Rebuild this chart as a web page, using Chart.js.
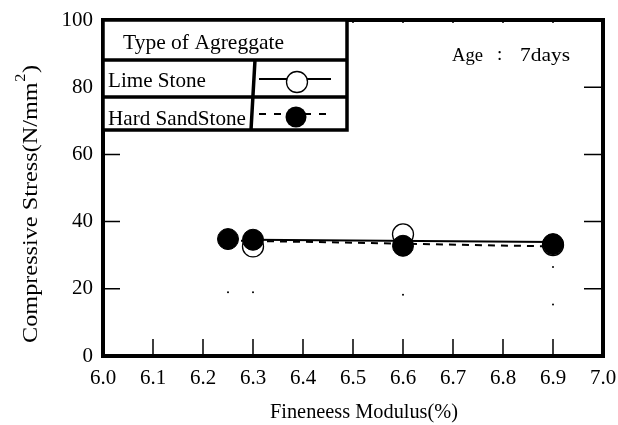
<!DOCTYPE html>
<html><head><meta charset="utf-8">
<script src="https://cdn.jsdelivr.net/npm/chart.js@4"></script>
<style>html,body{margin:0;padding:0;background:#fff}#wrap{width:618px;height:425px}</style>
</head><body><div id="wrap"><canvas id="c" width="618" height="425"></canvas></div>
<script>
// ---- data ----
const xTickValues = [6.0, 6.1, 6.2, 6.3, 6.4, 6.5, 6.6, 6.7, 6.8, 6.9, 7.0];
const xTickLabels = ['6.0','6.1','6.2','6.3','6.4','6.5','6.6','6.7','6.8','6.9','7.0'];
const yTickValues = [0, 20, 40, 60, 80, 100];
const yTickLabels = ['0','20','40','60','80','100'];

const limeX = [6.3, 6.6, 6.9];
const limeY = [32.6, 36.2, 33.0];
const sandX = [6.25, 6.3, 6.6, 6.9];
const sandY = [34.8, 34.6, 32.8, 33.3];

const limeTrendX = [6.3, 6.9];
const limeTrendY = [34.6, 33.9];
const sandTrendX = [6.25, 6.9];
const sandTrendY = [34.4, 32.6];

const speckX = [6.25, 6.3, 6.6, 6.9, 6.9];
const speckY = [19.0, 19.0, 18.2, 26.5, 15.3];

const seriesNames = ['Lime Stone', 'Hard SandStone'];
const legendTitle = 'Type of Agreggate';
const xTitle = 'Fineneess Modulus(%)';
const yTitleMain = 'Compressive Stress(N/mm';
const yTitleSup = '2';
const yTitleEnd = ')';
const ageParts = ['Age', ':', '7days'];

const pts = (xs, ys) => xs.map((x, i) => ({x: x, y: ys[i]}));
const SERIF = '"Liberation Serif", "Times New Roman", serif';

function stretchText(ctx, text, x, y, targetW) {
  const w = ctx.measureText(text).width;
  const s = targetW / w;
  ctx.save();
  ctx.translate(x, y);
  ctx.scale(s, 1);
  ctx.fillText(text, 0, 0);
  ctx.restore();
}

const decor = {
  id: 'decor',
  afterDraw(chart) {
    const ctx = chart.ctx;
    const a = chart.chartArea;
    const xs = chart.scales.x, ys = chart.scales.y;
    ctx.save();
    ctx.strokeStyle = '#000';
    ctx.fillStyle = '#000';
    // inward ticks
    ctx.lineWidth = 1.5;
    ctx.beginPath();
    xTickValues.forEach(v => {
      const px = xs.getPixelForValue(v);
      ctx.moveTo(px, a.bottom); ctx.lineTo(px, a.bottom - 17);
      ctx.moveTo(px, a.top); ctx.lineTo(px, a.top + 3);
    });
    yTickValues.forEach(v => {
      const py = ys.getPixelForValue(v);
      ctx.moveTo(a.left, py); ctx.lineTo(a.left + 17, py);
      ctx.moveTo(a.right, py); ctx.lineTo(a.right - 19, py);
    });
    ctx.stroke();
    // frame
    ctx.lineWidth = 4;
    ctx.strokeRect(a.left, a.top, a.right - a.left, a.bottom - a.top);

    // legend table
    const L = a.left, R = 347, T = a.top, r1 = 60, r2 = 97, B = 130;
    ctx.fillStyle = '#fff';
    ctx.fillRect(L, T, R - L, B - T);
    ctx.lineWidth = 3.5;
    ctx.beginPath();
    ctx.moveTo(L, T); ctx.lineTo(R, T); ctx.lineTo(R, B); ctx.lineTo(L - 2, B);
    ctx.moveTo(L, B); ctx.lineTo(L, T);
    ctx.moveTo(L, r1); ctx.lineTo(R, r1);
    ctx.moveTo(L, r2); ctx.lineTo(R, r2);
    ctx.moveTo(255, r1); ctx.lineTo(251, B);
    ctx.stroke();
    ctx.fillStyle = '#000';
    ctx.font = '21px ' + SERIF;
    ctx.textBaseline = 'alphabetic';
    ctx.textAlign = 'left';
    stretchText(ctx, legendTitle, 123, 49, 161);
    stretchText(ctx, seriesNames[0], 108, 87, 98);
    stretchText(ctx, seriesNames[1], 108, 125, 138);
    // legend symbols
    ctx.lineWidth = 2;
    ctx.beginPath(); ctx.moveTo(259, 79); ctx.lineTo(331, 79); ctx.stroke();
    ctx.beginPath(); ctx.arc(297, 82, 10.5, 0, Math.PI * 2);
    ctx.fillStyle = '#fff'; ctx.fill();
    ctx.lineWidth = 1.3; ctx.stroke();
    ctx.fillStyle = '#000';
    ctx.lineWidth = 2;
    ctx.setLineDash([7, 8]);
    ctx.beginPath(); ctx.moveTo(259, 114); ctx.lineTo(331, 114); ctx.stroke();
    ctx.setLineDash([]);
    ctx.beginPath(); ctx.arc(296, 117, 10.5, 0, Math.PI * 2); ctx.fill();

    // age text
    ctx.font = '19px ' + SERIF;
    stretchText(ctx, ageParts[0], 452, 61, 31);
    ctx.fillText(ageParts[1], 497, 60);
    stretchText(ctx, ageParts[2], 520, 61, 50);

    // x title
    ctx.font = '20px ' + SERIF;
    stretchText(ctx, xTitle, 270, 418, 188);

    // y title (rotated)
    ctx.save();
    ctx.translate(37, 343);
    ctx.rotate(-Math.PI / 2);
    ctx.font = '21px ' + SERIF;
    const w1 = ctx.measureText(yTitleMain).width;
    ctx.font = '14px ' + SERIF;
    const w2 = ctx.measureText(yTitleSup).width;
    ctx.font = '21px ' + SERIF;
    const w3 = ctx.measureText(yTitleEnd).width;
    const s = 278 / (w1 + w2 + w3 + 1);
    ctx.scale(s, 1);
    ctx.fillText(yTitleMain, 0, 0);
    ctx.font = '14px ' + SERIF;
    ctx.fillText(yTitleSup, w1 + 0.5, -12);
    ctx.font = '21px ' + SERIF;
    ctx.fillText(yTitleEnd, w1 + w2 + 1, 0);
    ctx.restore();

    ctx.restore();
  }
};

new Chart(document.getElementById('c'), {
  type: 'scatter',
  data: {
    datasets: [
      { label: seriesNames[1], data: pts(sandX, sandY), pointRadius: 10.5, pointHoverRadius: 10.5,
        pointBackgroundColor: '#000', pointBorderColor: '#000', pointBorderWidth: 1, showLine: false },
      { label: seriesNames[0], data: pts(limeX, limeY), pointRadius: 10.5, pointHoverRadius: 10.5,
        pointBackgroundColor: '#fff', pointBorderColor: '#000', pointBorderWidth: 1.3, showLine: false },
      { label: 'lime trend', data: pts(limeTrendX, limeTrendY), showLine: true, pointRadius: 0,
        borderColor: '#000', borderWidth: 2 },
      { label: 'sand trend', data: pts(sandTrendX, sandTrendY), showLine: true, pointRadius: 0,
        borderColor: '#000', borderWidth: 2, borderDash: [7, 6] },
      { label: 'specks', data: pts(speckX, speckY), pointRadius: 1, pointBackgroundColor: '#000',
        pointBorderWidth: 0, showLine: false }
    ]
  },
  options: {
    responsive: false,
    animation: false,
    devicePixelRatio: 1,
    layout: { padding: { top: 20, right: 15, left: 0, bottom: 0 } },
    plugins: { legend: { display: false }, tooltip: { enabled: false }, title: { display: false } },
    scales: {
      x: {
        type: 'linear', min: 6, max: 7,
        afterBuildTicks: sc => { sc.ticks = xTickValues.map(v => ({value: v})); },
        afterFit: sc => { sc.height = 69; sc.paddingLeft = 0; sc.paddingRight = 0; },
        ticks: { callback: (v, i) => xTickLabels[i], font: { family: SERIF, size: 21 }, color: '#000',
          padding: 10, maxRotation: 0, autoSkip: false },
        grid: { display: false, drawTicks: false },
        border: { display: false }
      },
      y: {
        type: 'linear', min: 0, max: 100,
        afterBuildTicks: sc => { sc.ticks = yTickValues.map(v => ({value: v})); },
        afterFit: sc => { sc.width = 103; sc.paddingTop = 0; sc.paddingBottom = 0; },
        ticks: { callback: (v, i) => yTickLabels[i], font: { family: SERIF, size: 21 }, color: '#000',
          padding: 10 },
        grid: { display: false, drawTicks: false },
        border: { display: false }
      }
    }
  },
  plugins: [decor]
});
</script>
</body></html>
